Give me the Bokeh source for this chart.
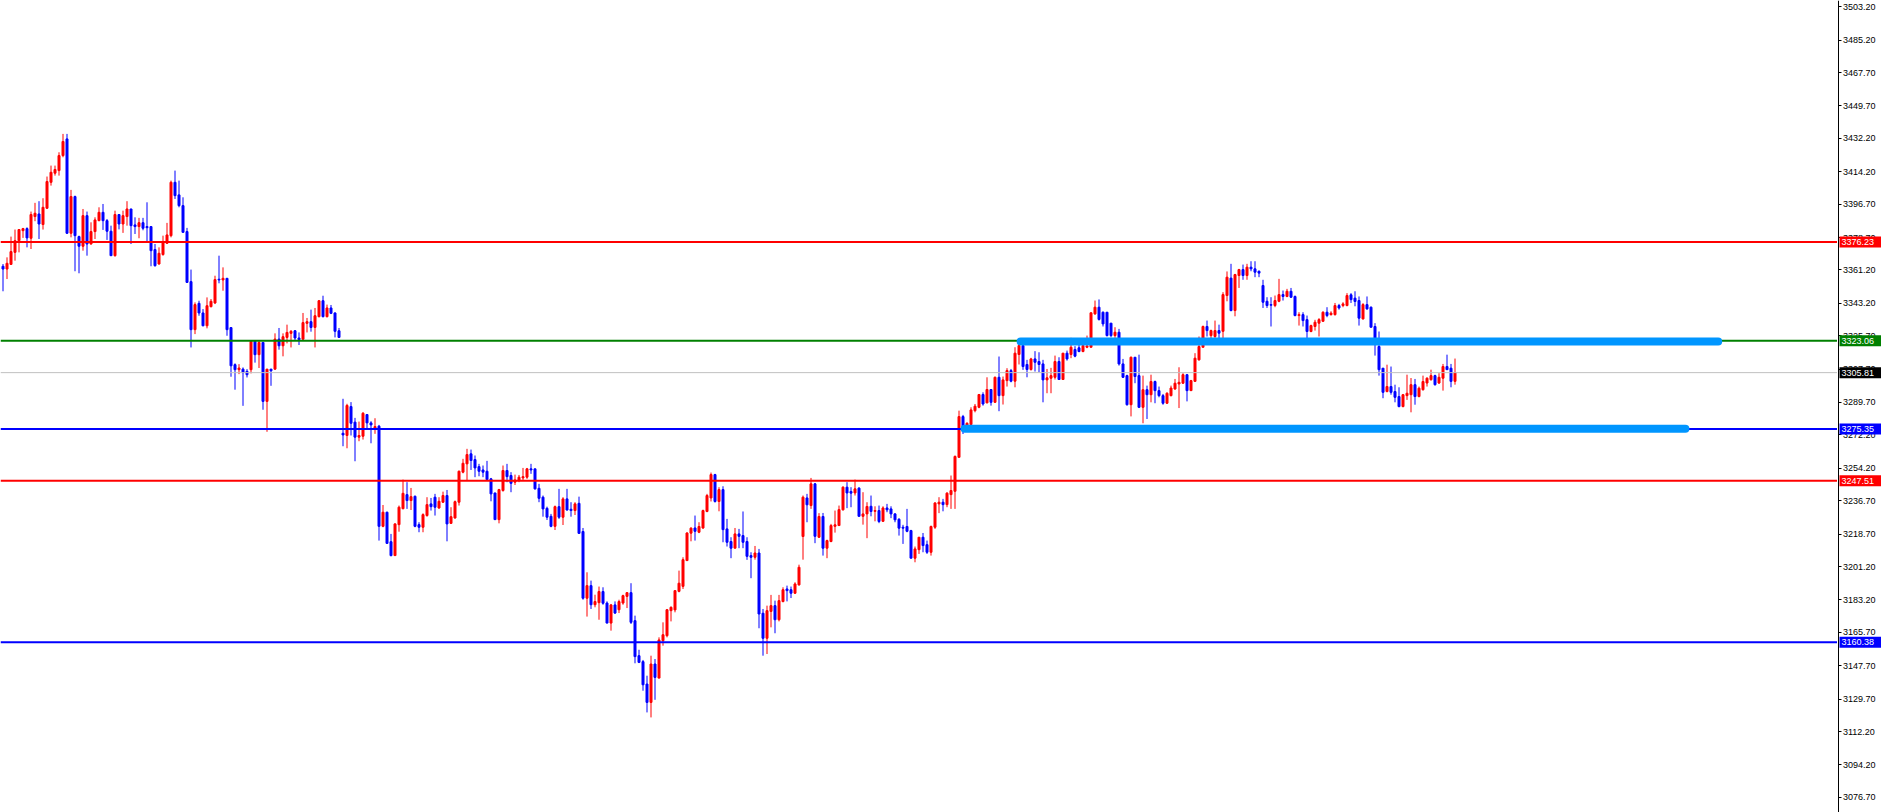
from bokeh.plotting import figure
from bokeh.layouts import row
from bokeh.models import Range1d, FixedTicker, Span, ColumnDataSource, NumeralTickFormatter, LinearAxis
from bokeh.core.properties import value
from bokeh.embed import file_html
from bokeh.resources import INLINE

# ---------------- data (prices) ----------------
opens = [
    3363.2, 3361.7, 3364.2, 3370.7, 3377.0, 3382.4, 3383.5, 3378.3, 3390.0, 3391.4,
    3385.7, 3394.5, 3408.5, 3413.4, 3414.8, 3422.9, 3431.9, 3381.0, 3400.8, 3379.2,
    3374.0, 3390.5, 3375.2, 3381.9, 3387.8, 3392.3, 3387.8, 3382.1, 3368.9, 3391.1,
    3386.0, 3390.0, 3394.1, 3385.5, 3384.6, 3386.7, 3384.6, 3384.6, 3372.2, 3364.4,
    3369.5, 3375.6, 3379.7, 3408.5, 3401.7, 3395.9, 3381.9, 3354.9, 3329.0, 3343.2,
    3338.0, 3331.1, 3341.4, 3343.4, 3356.2, 3355.8, 3356.7, 3330.1, 3310.1, 3307.4,
    3307.7, 3306.5, 3307.4, 3322.7, 3315.5, 3322.1, 3290.3, 3307.7, 3307.7, 3323.9,
    3320.3, 3324.8, 3327.0, 3328.4, 3324.5, 3323.8, 3332.4, 3333.3, 3330.2, 3336.0,
    3344.6, 3336.0, 3340.7, 3338.0, 3328.4, 3273.1, 3271.9, 3287.5, 3279.1, 3271.0,
    3271.5, 3283.2, 3278.7, 3275.5, 3276.9, 3222.9, 3230.5, 3214.6, 3207.1, 3223.8,
    3232.4, 3240.0, 3236.8, 3239.1, 3223.8, 3222.4, 3228.7, 3235.0, 3238.6, 3232.8,
    3235.9, 3239.5, 3224.5, 3227.4, 3235.9, 3252.1, 3256.6, 3262.0, 3258.9, 3255.1,
    3253.3, 3252.6, 3248.5, 3240.9, 3226.5, 3242.2, 3253.0, 3250.3, 3246.7, 3247.9,
    3249.0, 3249.4, 3253.9, 3253.9, 3243.4, 3238.6, 3232.6, 3228.3, 3222.9, 3233.5,
    3227.8, 3237.7, 3232.1, 3231.4, 3235.3, 3220.1, 3184.1, 3190.9, 3180.6, 3181.7,
    3187.7, 3181.5, 3170.7, 3180.5, 3177.9, 3181.5, 3185.1, 3187.1, 3172.0, 3153.1,
    3149.9, 3137.8, 3127.9, 3148.6, 3141.0, 3161.2, 3163.9, 3177.4, 3177.8, 3187.8,
    3190.5, 3204.4, 3219.2, 3222.0, 3219.7, 3222.0, 3230.9, 3238.2, 3250.8, 3236.3,
    3242.7, 3221.5, 3214.7, 3211.1, 3218.8, 3217.9, 3214.7, 3207.1, 3206.2, 3208.5,
    3176.0, 3162.5, 3177.0, 3180.1, 3172.5, 3182.3, 3189.1, 3188.7, 3186.8, 3191.3,
    3217.4, 3238.2, 3234.1, 3245.8, 3217.0, 3228.2, 3211.1, 3214.7, 3222.9, 3223.3,
    3231.8, 3244.0, 3241.7, 3240.9, 3243.5, 3228.3, 3229.6, 3233.7, 3231.0, 3231.4,
    3225.6, 3232.8, 3232.3, 3229.6, 3226.7, 3222.4, 3222.8, 3220.6, 3205.7, 3210.3,
    3217.0, 3213.0, 3208.9, 3222.4, 3235.0, 3235.9, 3234.6, 3240.0, 3241.8, 3260.1,
    3282.1, 3276.3, 3277.8, 3285.3, 3287.1, 3294.0, 3289.5, 3296.7, 3289.8, 3303.3,
    3293.4, 3301.5, 3306.9, 3301.2, 3315.6, 3320.4, 3310.2, 3307.5, 3313.2, 3311.8,
    3310.5, 3301.9, 3302.8, 3303.3, 3311.8, 3302.1, 3316.3, 3315.6, 3318.3, 3319.2,
    3317.2, 3319.5, 3319.5, 3337.5, 3341.1, 3338.4, 3338.4, 3332.5, 3325.8, 3327.6,
    3310.5, 3304.2, 3288.5, 3314.1, 3304.2, 3287.1, 3296.6, 3293.9, 3301.0, 3296.1,
    3293.4, 3289.3, 3293.4, 3297.0, 3299.7, 3300.1, 3304.7, 3296.1, 3301.1, 3312.7,
    3319.5, 3330.7, 3325.8, 3325.3, 3328.5, 3328.1, 3347.4, 3356.8, 3339.3, 3358.2,
    3361.4, 3358.2, 3362.7, 3361.8, 3360.5, 3352.8, 3344.3, 3342.5, 3342.0, 3344.3,
    3347.9, 3346.9, 3349.7, 3346.9, 3336.6, 3337.1, 3334.4, 3328.0, 3330.7, 3332.5,
    3333.5, 3338.4, 3337.1, 3337.1, 3342.0, 3342.0, 3342.0, 3347.8, 3346.0, 3344.7,
    3334.8, 3342.5, 3341.1, 3330.7, 3319.9, 3308.2, 3295.6, 3298.3, 3295.6, 3292.9,
    3287.5, 3293.4, 3293.9, 3299.3, 3292.9, 3296.6, 3300.2, 3302.0, 3304.2, 3300.2,
    3302.8, 3309.1, 3308.2, 3301.1,
]
highs = [
    3364.4, 3368.0, 3379.2, 3383.0, 3383.0, 3383.9, 3384.2, 3392.7, 3397.4, 3398.3,
    3399.9, 3411.6, 3417.5, 3417.5, 3424.7, 3434.6, 3434.6, 3404.4, 3401.3, 3379.7,
    3394.1, 3392.7, 3386.9, 3389.6, 3395.0, 3396.8, 3388.7, 3385.1, 3393.2, 3391.1,
    3393.2, 3398.3, 3394.1, 3389.6, 3389.3, 3389.3, 3397.7, 3384.6, 3375.2, 3373.4,
    3379.7, 3386.6, 3409.4, 3414.8, 3409.4, 3400.4, 3383.9, 3361.4, 3343.7, 3344.6,
    3340.1, 3346.4, 3345.5, 3358.1, 3368.9, 3362.6, 3356.7, 3330.1, 3310.8, 3310.4,
    3308.6, 3307.7, 3323.4, 3323.0, 3323.0, 3322.1, 3307.7, 3307.7, 3327.0, 3329.9,
    3327.0, 3331.7, 3328.8, 3328.8, 3327.5, 3338.0, 3335.3, 3339.8, 3340.7, 3345.0,
    3347.3, 3342.5, 3342.3, 3338.3, 3329.9, 3291.7, 3289.0, 3289.9, 3281.4, 3279.4,
    3284.5, 3283.2, 3279.6, 3281.2, 3277.6, 3234.4, 3230.8, 3218.8, 3224.5, 3234.1,
    3248.1, 3246.7, 3243.6, 3239.5, 3225.1, 3229.9, 3238.6, 3238.2, 3240.4, 3238.6,
    3241.6, 3242.5, 3233.2, 3236.8, 3253.0, 3259.3, 3264.7, 3264.3, 3261.1, 3256.6,
    3255.7, 3258.2, 3249.0, 3240.9, 3243.1, 3255.7, 3256.6, 3252.1, 3250.8, 3250.6,
    3254.4, 3254.4, 3256.6, 3253.9, 3245.8, 3239.5, 3233.5, 3229.6, 3234.1, 3243.1,
    3238.6, 3243.1, 3235.9, 3235.9, 3238.9, 3222.0, 3198.1, 3193.6, 3186.0, 3190.4,
    3190.0, 3182.4, 3181.0, 3182.4, 3183.3, 3186.0, 3187.3, 3192.2, 3174.7, 3156.3,
    3150.8, 3142.3, 3153.1, 3151.3, 3163.0, 3171.1, 3178.3, 3179.7, 3188.2, 3199.0,
    3206.2, 3219.7, 3222.4, 3228.7, 3225.1, 3231.9, 3240.4, 3251.9, 3251.2, 3244.0,
    3244.5, 3226.9, 3217.0, 3222.0, 3221.5, 3230.9, 3217.0, 3208.9, 3212.3, 3210.7,
    3178.3, 3180.1, 3185.9, 3182.8, 3185.9, 3190.0, 3190.9, 3190.4, 3192.7, 3202.2,
    3239.5, 3240.4, 3249.0, 3246.3, 3230.0, 3230.1, 3215.7, 3224.2, 3231.4, 3234.1,
    3244.5, 3246.7, 3244.0, 3248.1, 3244.0, 3241.3, 3235.9, 3239.5, 3233.7, 3234.1,
    3233.7, 3235.0, 3233.7, 3230.0, 3227.3, 3223.7, 3232.3, 3221.0, 3212.0, 3217.0,
    3219.3, 3215.2, 3223.3, 3235.9, 3238.6, 3237.7, 3241.3, 3250.3, 3261.1, 3285.3,
    3283.0, 3279.0, 3287.1, 3288.9, 3294.3, 3295.2, 3303.3, 3296.7, 3303.7, 3314.5,
    3303.7, 3308.2, 3307.8, 3319.5, 3323.1, 3320.8, 3312.7, 3313.8, 3317.4, 3316.8,
    3312.7, 3307.8, 3308.4, 3315.0, 3314.1, 3316.3, 3317.7, 3324.6, 3320.1, 3321.3,
    3321.3, 3325.8, 3338.1, 3344.7, 3345.3, 3338.8, 3338.4, 3332.5, 3330.3, 3329.4,
    3313.2, 3304.7, 3314.5, 3314.1, 3315.5, 3304.2, 3298.8, 3304.7, 3301.5, 3298.3,
    3294.3, 3295.2, 3298.8, 3302.4, 3308.7, 3305.5, 3305.1, 3301.9, 3316.3, 3325.3,
    3331.2, 3333.9, 3329.0, 3333.9, 3331.7, 3349.2, 3360.4, 3364.5, 3359.1, 3361.8,
    3364.1, 3364.5, 3365.9, 3365.9, 3360.9, 3355.9, 3346.5, 3346.5, 3347.4, 3356.4,
    3350.1, 3351.0, 3351.5, 3347.4, 3338.4, 3338.4, 3336.6, 3331.7, 3334.3, 3335.2,
    3338.9, 3341.1, 3338.9, 3343.4, 3342.9, 3343.8, 3348.7, 3348.7, 3349.7, 3346.9,
    3343.3, 3346.9, 3341.5, 3332.5, 3328.0, 3308.2, 3310.1, 3309.1, 3299.3, 3297.9,
    3294.3, 3304.7, 3302.9, 3302.4, 3298.3, 3304.2, 3303.3, 3307.4, 3304.7, 3305.5,
    3310.5, 3315.5, 3310.5, 3313.4,
]
lows = [
    3349.7, 3356.3, 3364.2, 3366.2, 3370.7, 3378.5, 3373.4, 3372.5, 3387.5, 3377.9,
    3383.0, 3394.1, 3406.7, 3412.1, 3412.1, 3422.0, 3380.6, 3378.8, 3360.5, 3359.4,
    3371.6, 3368.9, 3374.9, 3377.9, 3387.5, 3382.8, 3377.4, 3368.9, 3368.4, 3383.1,
    3381.2, 3385.1, 3375.2, 3380.6, 3378.3, 3382.6, 3376.1, 3363.2, 3363.0, 3364.1,
    3368.9, 3375.2, 3378.8, 3399.5, 3395.0, 3381.5, 3354.2, 3319.4, 3326.6, 3336.5,
    3330.8, 3329.7, 3341.0, 3342.8, 3354.0, 3350.0, 3325.7, 3303.6, 3296.6, 3305.0,
    3287.9, 3303.2, 3305.4, 3311.2, 3308.3, 3285.8, 3273.9, 3298.7, 3307.4, 3318.2,
    3314.6, 3321.6, 3319.4, 3323.0, 3320.7, 3323.8, 3327.5, 3327.9, 3319.4, 3335.6,
    3335.6, 3335.6, 3337.4, 3324.8, 3324.8, 3266.1, 3265.0, 3271.9, 3258.0, 3268.8,
    3269.7, 3275.5, 3267.7, 3272.8, 3215.2, 3222.4, 3213.4, 3206.7, 3207.1, 3220.0,
    3232.1, 3232.3, 3231.7, 3222.4, 3219.7, 3219.7, 3228.1, 3231.4, 3228.7, 3232.3,
    3235.5, 3214.8, 3224.2, 3227.0, 3234.1, 3251.5, 3247.6, 3253.3, 3249.4, 3249.9,
    3249.4, 3248.1, 3236.4, 3226.5, 3224.5, 3241.6, 3246.7, 3241.3, 3245.2, 3246.7,
    3247.9, 3248.5, 3251.2, 3242.7, 3235.9, 3228.1, 3226.3, 3222.4, 3220.9, 3226.9,
    3223.6, 3231.4, 3228.1, 3229.0, 3218.8, 3183.3, 3174.2, 3178.3, 3179.2, 3172.5,
    3180.6, 3170.6, 3166.6, 3175.6, 3176.1, 3180.6, 3178.8, 3170.2, 3149.0, 3149.1,
    3134.2, 3122.5, 3119.8, 3129.3, 3141.0, 3158.5, 3163.0, 3171.6, 3176.5, 3187.3,
    3189.1, 3204.4, 3214.8, 3215.2, 3219.2, 3221.5, 3230.5, 3236.3, 3235.7, 3231.0,
    3214.3, 3212.0, 3205.7, 3211.1, 3211.1, 3211.1, 3204.8, 3194.9, 3204.9, 3167.9,
    3153.1, 3154.0, 3168.4, 3165.2, 3171.6, 3181.9, 3182.4, 3184.2, 3186.4, 3190.9,
    3204.9, 3225.1, 3232.3, 3213.8, 3216.6, 3207.1, 3205.7, 3214.3, 3219.5, 3223.3,
    3231.4, 3232.7, 3233.2, 3239.5, 3228.2, 3223.8, 3216.5, 3228.3, 3225.6, 3224.6,
    3225.3, 3230.5, 3227.3, 3225.1, 3217.9, 3213.4, 3219.7, 3205.7, 3203.5, 3208.0,
    3208.9, 3208.0, 3207.1, 3221.5, 3230.0, 3231.0, 3233.2, 3232.3, 3232.3, 3260.1,
    3272.7, 3275.4, 3277.6, 3284.4, 3286.6, 3288.0, 3289.3, 3288.0, 3289.5, 3285.0,
    3288.6, 3298.3, 3300.6, 3297.9, 3310.2, 3307.3, 3303.3, 3306.9, 3306.4, 3306.0,
    3289.8, 3294.7, 3294.7, 3302.1, 3302.1, 3302.1, 3312.3, 3313.6, 3314.1, 3316.8,
    3316.8, 3319.0, 3319.5, 3337.0, 3333.9, 3330.7, 3325.3, 3324.9, 3324.6, 3309.6,
    3302.9, 3288.0, 3282.2, 3300.1, 3286.7, 3278.5, 3280.8, 3289.8, 3289.3, 3292.5,
    3288.5, 3288.9, 3293.0, 3296.5, 3286.7, 3299.7, 3290.3, 3296.1, 3301.0, 3312.3,
    3319.5, 3325.3, 3324.5, 3324.0, 3324.4, 3324.0, 3344.3, 3338.9, 3336.2, 3351.5,
    3355.9, 3355.9, 3360.5, 3357.3, 3357.3, 3340.7, 3340.7, 3330.7, 3341.1, 3343.8,
    3344.7, 3346.5, 3346.1, 3336.2, 3331.2, 3330.7, 3324.0, 3327.6, 3328.5, 3325.3,
    3333.4, 3335.7, 3336.6, 3336.6, 3339.8, 3341.1, 3341.6, 3343.4, 3341.6, 3331.2,
    3334.4, 3339.7, 3330.3, 3315.0, 3304.2, 3292.0, 3295.2, 3293.9, 3289.8, 3287.1,
    3287.1, 3291.1, 3284.4, 3288.5, 3292.5, 3296.1, 3298.3, 3301.5, 3298.8, 3299.7,
    3296.1, 3307.3, 3297.9, 3299.3,
]
closes = [
    3361.7, 3364.8, 3371.1, 3377.0, 3383.0, 3383.5, 3378.5, 3391.1, 3391.8, 3386.0,
    3395.0, 3408.9, 3413.9, 3415.4, 3422.9, 3430.5, 3381.0, 3400.8, 3379.7, 3374.0,
    3390.5, 3375.2, 3381.9, 3388.2, 3392.3, 3387.8, 3382.1, 3368.9, 3391.1, 3386.0,
    3390.5, 3394.1, 3385.1, 3384.6, 3386.7, 3383.7, 3384.0, 3371.6, 3363.5, 3370.2,
    3376.1, 3380.1, 3408.5, 3401.3, 3395.9, 3381.5, 3354.5, 3329.0, 3342.5, 3338.0,
    3331.1, 3341.9, 3344.3, 3356.0, 3355.8, 3356.7, 3329.0, 3309.5, 3307.4, 3308.3,
    3305.8, 3304.7, 3322.7, 3315.5, 3322.1, 3290.3, 3307.7, 3306.8, 3323.9, 3320.3,
    3325.2, 3327.5, 3328.1, 3324.5, 3323.6, 3332.8, 3333.3, 3330.2, 3336.5, 3344.6,
    3336.0, 3340.7, 3337.8, 3328.1, 3324.8, 3272.2, 3288.1, 3278.5, 3271.0, 3271.9,
    3283.9, 3278.7, 3277.6, 3276.7, 3222.9, 3230.5, 3213.7, 3207.1, 3224.2, 3233.2,
    3240.7, 3236.8, 3238.9, 3222.9, 3222.4, 3229.2, 3234.6, 3233.5, 3233.2, 3236.4,
    3239.5, 3224.2, 3228.1, 3236.2, 3252.6, 3256.9, 3261.6, 3258.4, 3254.4, 3252.6,
    3252.1, 3248.1, 3240.4, 3226.5, 3242.7, 3253.0, 3249.7, 3246.1, 3247.9, 3249.4,
    3249.7, 3253.9, 3253.3, 3243.1, 3238.0, 3232.3, 3227.8, 3222.9, 3233.5, 3227.8,
    3237.7, 3231.7, 3231.4, 3235.0, 3219.1, 3184.1, 3190.9, 3180.6, 3182.3, 3187.7,
    3181.4, 3170.7, 3180.5, 3176.1, 3182.3, 3185.5, 3187.1, 3171.1, 3152.6, 3149.5,
    3137.4, 3127.9, 3148.6, 3141.4, 3161.6, 3164.4, 3177.9, 3179.2, 3188.2, 3192.2,
    3204.9, 3219.3, 3221.9, 3220.2, 3222.8, 3231.4, 3239.5, 3250.8, 3236.3, 3242.7,
    3221.1, 3214.3, 3211.1, 3218.8, 3217.5, 3214.3, 3206.7, 3206.2, 3208.5, 3175.6,
    3162.5, 3177.4, 3180.1, 3172.5, 3182.8, 3188.7, 3188.2, 3186.8, 3191.8, 3200.8,
    3238.6, 3234.5, 3245.8, 3217.5, 3228.2, 3211.1, 3215.2, 3223.3, 3223.7, 3231.9,
    3244.0, 3240.9, 3240.8, 3243.1, 3228.3, 3229.6, 3233.6, 3230.9, 3231.4, 3225.5,
    3232.8, 3231.8, 3229.6, 3226.4, 3221.9, 3221.9, 3220.2, 3205.7, 3210.7, 3217.0,
    3212.5, 3208.9, 3222.8, 3235.5, 3235.9, 3234.6, 3240.8, 3242.2, 3260.6, 3282.1,
    3276.3, 3278.5, 3285.7, 3287.7, 3294.0, 3288.9, 3296.7, 3289.8, 3303.3, 3293.4,
    3301.9, 3306.9, 3301.2, 3316.3, 3320.4, 3309.1, 3307.5, 3313.2, 3311.4, 3310.2,
    3301.9, 3303.0, 3304.2, 3311.8, 3302.1, 3316.3, 3313.2, 3319.5, 3314.7, 3317.2,
    3320.4, 3320.2, 3338.1, 3341.1, 3334.5, 3332.1, 3325.8, 3325.8, 3327.6, 3310.5,
    3303.3, 3288.5, 3314.1, 3303.7, 3287.1, 3296.6, 3293.9, 3301.0, 3296.1, 3293.4,
    3289.3, 3294.7, 3297.5, 3300.1, 3300.6, 3304.7, 3296.1, 3301.5, 3313.6, 3319.9,
    3330.7, 3328.5, 3328.5, 3328.5, 3327.1, 3347.9, 3357.3, 3339.3, 3358.7, 3361.4,
    3358.2, 3362.7, 3361.8, 3360.0, 3359.5, 3343.8, 3342.0, 3342.2, 3344.7, 3347.9,
    3346.9, 3349.7, 3346.5, 3336.6, 3337.1, 3333.9, 3328.0, 3331.2, 3333.0, 3334.4,
    3338.4, 3336.6, 3337.9, 3342.0, 3340.7, 3342.9, 3347.4, 3345.2, 3344.2, 3335.2,
    3342.5, 3340.2, 3330.3, 3324.0, 3307.4, 3295.2, 3298.3, 3295.2, 3292.5, 3287.5,
    3293.9, 3294.7, 3299.3, 3292.9, 3297.4, 3301.0, 3302.8, 3304.2, 3299.3, 3303.3,
    3309.1, 3307.4, 3301.1, 3305.8,
]

tick_values = [3503.20, 3485.20, 3467.70, 3449.70, 3432.20, 3414.20, 3396.70, 3378.70,
               3361.20, 3343.20, 3325.70, 3307.70, 3289.70, 3272.20, 3254.20, 3236.70,
               3218.70, 3201.20, 3183.20, 3165.70, 3147.70, 3129.70, 3112.20, 3094.20,
               3076.70]

level_prices = [3376.23, 3323.06, 3305.81, 3275.35, 3247.51, 3160.38]
level_line_colors = ["#ff0000", "#008000", "#c0c0c0", "#0000ff", "#ff0000", "#0000ff"]
level_box_colors = ["#ff0000", "#008000", "#000000", "#0000ff", "#ff0000", "#0000ff"]
level_line_widths = [2, 2, 1, 2, 2, 2]
level_labels = ["%.2f" % v for v in level_prices]

# hand-drawn zones (bar index start/end, price)
zone_start = [254.4, 240.4]
zone_end = [428.8, 420.6]
zone_price = [3322.6, 3275.6]

# ---------------- layout ----------------
TOTAL_W, TOTAL_H = 1881, 812
SIDE_W = 44                      # price-scale column
MAIN_W = TOTAL_W - SIDE_W        # chart frame width
BAR_PX = 4.0                     # pixels per bar
BAR0_PX = 2.5                    # x pixel of first bar centre
PX_PER_PT = 1.8536               # pixels per price point
ANCHOR_PX, ANCHOR_P = 241.6, 3376.23

x0 = (0 - BAR0_PX) / BAR_PX
x1 = (MAIN_W - BAR0_PX) / BAR_PX
y0 = ANCHOR_P - (TOTAL_H - ANCHOR_PX) / PX_PER_PT
y1 = ANCHOR_P + ANCHOR_PX / PX_PER_PT
yr = Range1d(y0, y1)

p = figure(frame_width=MAIN_W, frame_height=TOTAL_H, x_range=Range1d(x0, x1), y_range=yr,
           output_backend="svg", toolbar_location=None, x_axis_location=None,
           y_axis_location=None, min_border=0)
p.outline_line_color = None
p.grid.visible = False
p.background_fill_color = "white"
p.border_fill_color = "white"

n = len(opens)
xs = list(range(n))
colors = ["#ff0000" if c >= o else "#0000ff" for o, c in zip(opens, closes)]
src = ColumnDataSource(dict(
    x=xs, high=highs, low=lows,
    top=[max(o, c) for o, c in zip(opens, closes)],
    bottom=[min(o, c) for o, c in zip(opens, closes)],
    color=colors,
))
p.segment(x0="x", y0="low", x1="x", y1="high", line_color="color", line_width=1, source=src)
p.vbar(x="x", width=0.5, top="top", bottom="bottom", fill_color="color",
       line_color="color", line_width=1, source=src)

for price, lc, lw in zip(level_prices, level_line_colors, level_line_widths):
    p.add_layout(Span(location=price, dimension="width", line_color=lc, line_width=lw))

zr = p.segment(x0=zone_start, y0=zone_price, x1=zone_end, y1=zone_price,
               line_color="#0096ff", line_width=8, line_cap="round")
zr.level = "overlay"

# ---------------- price scale column ----------------
ps = figure(frame_width=SIDE_W, frame_height=TOTAL_H, x_range=Range1d(0, SIDE_W), y_range=yr,
            output_backend="svg", toolbar_location=None, x_axis_location=None,
            y_axis_location=None, min_border=0)
ps.outline_line_color = None
ps.grid.visible = False
ps.background_fill_color = "white"
ps.border_fill_color = "white"

ax = LinearAxis(fixed_location=0.5)
ax.ticker = FixedTicker(ticks=tick_values)
ax.formatter = NumeralTickFormatter(format="0.00")
ax.major_tick_out = 3
ax.major_tick_in = 0
ax.minor_tick_out = 0
ax.minor_tick_in = 0
ax.axis_line_color = "black"
ax.major_tick_line_color = "black"
ax.major_label_text_font = "Liberation Sans"
ax.major_label_text_font_size = "9px"
ax.major_label_text_color = "black"
ax.major_label_standoff = 2
ps.add_layout(ax, "right")

box = ps.rect(x=[(2 + SIDE_W) / 2.0] * len(level_prices), y=level_prices,
              width=SIDE_W - 2, height=11, height_units="screen",
              fill_color=level_box_colors, line_color=None)
box.level = "overlay"
txt = ps.text(x=[4] * len(level_prices), y=level_prices, text=level_labels,
              text_color="white", text_font=value("Liberation Sans"), text_font_size="9px",
              text_baseline="middle", text_align="left")
txt.level = "overlay"

layout = row(p, ps, spacing=0)
open("out.html", "w").write(file_html(layout, INLINE))
